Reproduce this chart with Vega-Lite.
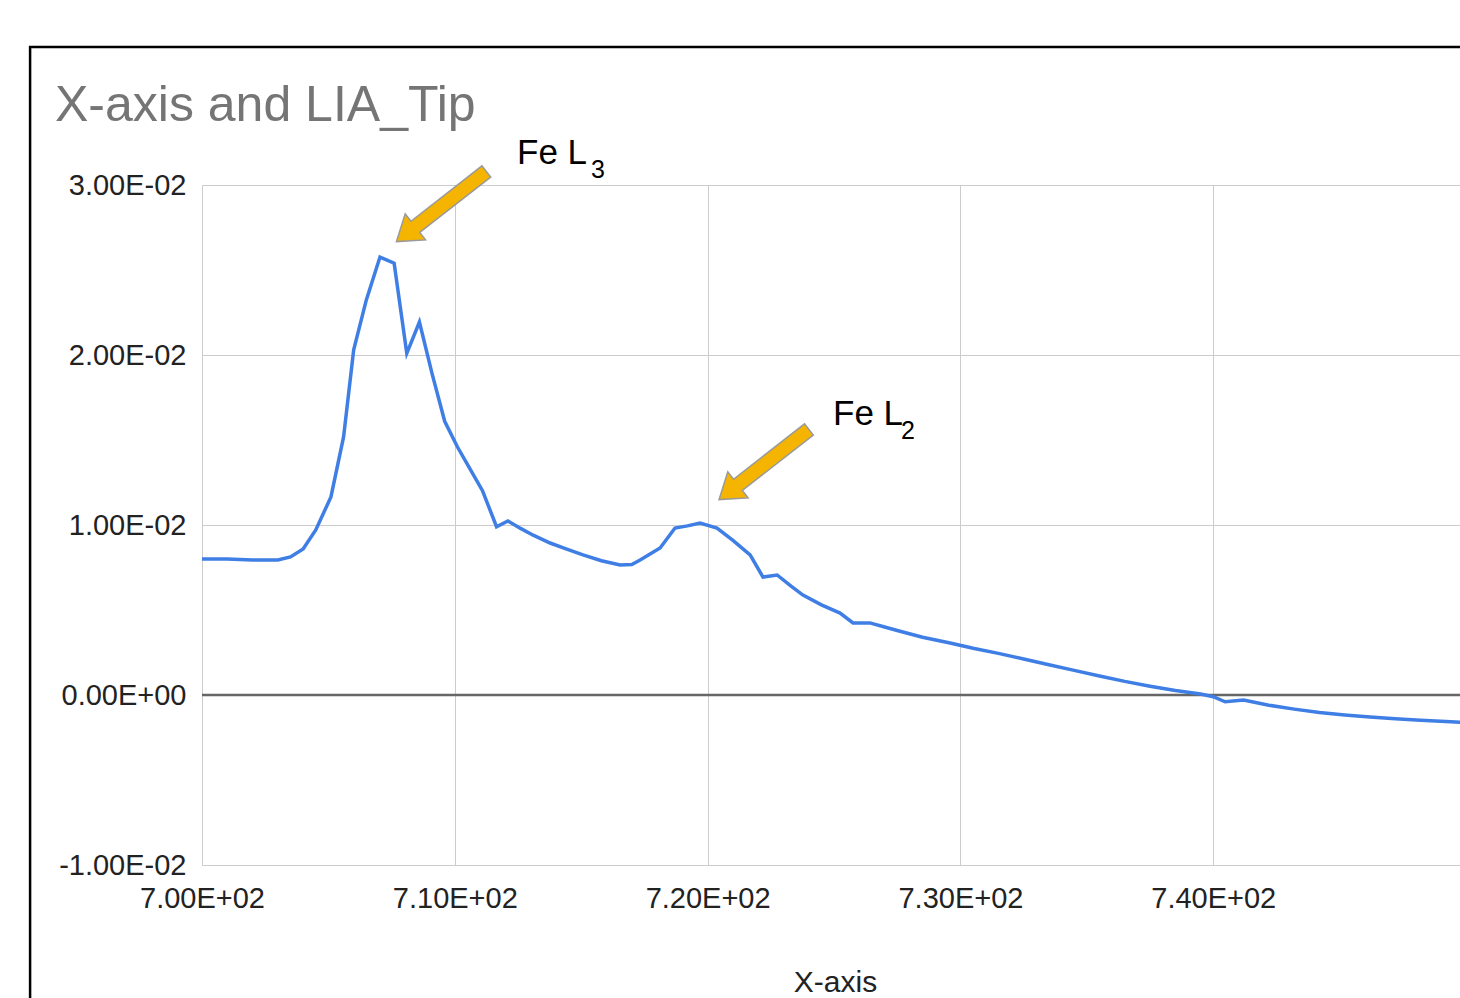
{
  "$schema": "https://vega.github.io/schema/vega-lite/v6.json",
  "autosize": "none",
  "width": 1258,
  "height": 680,
  "padding": {"left": 202, "top": 185, "right": 0, "bottom": 133},
  "background": "white",
  "config": {
    "view": {"stroke": null},
    "font": "Liberation Sans",
    "axis": {
      "domain": false,
      "ticks": false,
      "tickSize": 0,
      "grid": true,
      "gridColor": "#cccccc",
      "gridWidth": 1,
      "labelFlush": false,
      "labelOverlap": false,
      "labelFont": "Liberation Sans",
      "labelFontSize": 29,
      "labelColor": "#222222",
      "titleFont": "Liberation Sans",
      "titleFontSize": 30,
      "titleFontWeight": "normal",
      "titleColor": "#222222"
    }
  },
  "title": {
    "text": "X-axis and LIA_Tip",
    "anchor": "start",
    "frame": "group",
    "font": "Liberation Sans",
    "fontSize": 50,
    "fontWeight": "normal",
    "color": "#757575",
    "baseline": "alphabetic",
    "dx": -147,
    "dy": 160,
    "offset": 35
  },
  "datasets": {
    "spectrum": [
      {"x": 700.0, "y": 0.00800}, {"x": 700.5, "y": 0.00800}, {"x": 701.0, "y": 0.00800},
      {"x": 701.5, "y": 0.00797}, {"x": 702.0, "y": 0.00794}, {"x": 702.5, "y": 0.00794},
      {"x": 703.0, "y": 0.00794}, {"x": 703.5, "y": 0.00812}, {"x": 704.0, "y": 0.00859},
      {"x": 704.5, "y": 0.00971}, {"x": 705.1, "y": 0.01165}, {"x": 705.6, "y": 0.01518},
      {"x": 706.0, "y": 0.02030}, {"x": 706.5, "y": 0.02324}, {"x": 707.04, "y": 0.02576},
      {"x": 707.6, "y": 0.02540}, {"x": 708.1, "y": 0.02010}, {"x": 708.6, "y": 0.02194},
      {"x": 709.1, "y": 0.01890}, {"x": 709.6, "y": 0.01610}, {"x": 710.1, "y": 0.01460},
      {"x": 710.6, "y": 0.01330}, {"x": 711.1, "y": 0.01200}, {"x": 711.65, "y": 0.00990},
      {"x": 712.1, "y": 0.01024}, {"x": 712.6, "y": 0.00980}, {"x": 713.1, "y": 0.00940},
      {"x": 713.77, "y": 0.00894}, {"x": 714.4, "y": 0.00860}, {"x": 715.07, "y": 0.00824},
      {"x": 715.8, "y": 0.00790}, {"x": 716.54, "y": 0.00765}, {"x": 717.0, "y": 0.00768},
      {"x": 717.33, "y": 0.00794}, {"x": 718.12, "y": 0.00865}, {"x": 718.71, "y": 0.00982},
      {"x": 719.2, "y": 0.00995}, {"x": 719.7, "y": 0.01012}, {"x": 720.37, "y": 0.00982},
      {"x": 721.0, "y": 0.00910}, {"x": 721.68, "y": 0.00824}, {"x": 722.19, "y": 0.00694},
      {"x": 722.75, "y": 0.00706}, {"x": 723.3, "y": 0.00640}, {"x": 723.77, "y": 0.00588},
      {"x": 724.5, "y": 0.00530}, {"x": 725.24, "y": 0.00482}, {"x": 725.75, "y": 0.00424},
      {"x": 726.42, "y": 0.00424}, {"x": 727.0, "y": 0.00400}, {"x": 727.61, "y": 0.00375},
      {"x": 728.5, "y": 0.00340}, {"x": 729.59, "y": 0.00306}, {"x": 730.5, "y": 0.00275},
      {"x": 731.5, "y": 0.00245}, {"x": 732.5, "y": 0.00212}, {"x": 733.5, "y": 0.00178},
      {"x": 734.5, "y": 0.00145}, {"x": 735.5, "y": 0.00112}, {"x": 736.5, "y": 0.00080},
      {"x": 737.5, "y": 0.00052}, {"x": 738.5, "y": 0.00027}, {"x": 739.5, "y": 0.00006},
      {"x": 740.0, "y": -0.00010}, {"x": 740.47, "y": -0.00040}, {"x": 741.2, "y": -0.00030},
      {"x": 742.2, "y": -0.00060}, {"x": 743.2, "y": -0.00083}, {"x": 744.2, "y": -0.00103},
      {"x": 745.2, "y": -0.00118}, {"x": 746.2, "y": -0.00130}, {"x": 747.2, "y": -0.00140},
      {"x": 748.2, "y": -0.00148}, {"x": 749.2, "y": -0.00156}, {"x": 750.0, "y": -0.00162}
    ],
    "arrows": [
      {"x": 709.47, "y": 0.028735},
      {"x": 722.23, "y": 0.013559}
    ],
    "labels": [
      {"x": 712.46, "y": 0.031235, "text": "Fe L"},
      {"x": 724.96, "y": 0.015882, "text": "Fe L"}
    ],
    "subs": [
      {"x": 715.39, "y": 0.030412, "text": "3"},
      {"x": 727.65, "y": 0.015059, "text": "2"}
    ],
    "one": [{}]
  },
  "layer": [
    {
      "data": {"name": "one"},
      "mark": {"type": "rect", "filled": false, "fill": null, "stroke": "#000000", "strokeWidth": 2.5, "clip": false},
      "encoding": {
        "x": {"datum": 693.2, "type": "quantitative"},
        "x2": {"datum": 770},
        "y": {"datum": 0.03812, "type": "quantitative"},
        "y2": {"datum": -0.03}
      }
    },
    {
      "data": {"name": "one"},
      "mark": {"type": "rule", "color": "#666666", "strokeWidth": 2.5},
      "encoding": {"y": {"datum": 0, "type": "quantitative"}}
    },
    {
      "data": {"name": "spectrum"},
      "mark": {"type": "line", "color": "#3F7EE4", "strokeWidth": 3.5, "clip": true},
      "encoding": {
        "x": {
          "field": "x", "type": "quantitative",
          "scale": {"domain": [700, 749.76], "nice": false, "zero": false},
          "axis": {
            "values": [700, 710, 720, 730, 740],
            "labelPadding": 19,
            "title": "X-axis",
            "titlePadding": 54,
            "titleX": 633,
            "labelExpr": "datum.value == 0 ? '0.00E+00' : (datum.value < 0 ? '-' : '') + format(abs(datum.value) / pow(10, floor(log(abs(datum.value)) / LN10 + 1e-9)), '.2f') + 'E' + (floor(log(abs(datum.value)) / LN10 + 1e-9) < 0 ? '-' : '+') + (abs(floor(log(abs(datum.value)) / LN10 + 1e-9)) < 10 ? '0' : '') + abs(floor(log(abs(datum.value)) / LN10 + 1e-9))"
          }
        },
        "y": {
          "field": "y", "type": "quantitative",
          "scale": {"domain": [-0.01, 0.03], "nice": false, "zero": false},
          "axis": {
            "values": [-0.01, 0, 0.01, 0.02, 0.03],
            "labelPadding": 16,
            "title": null,
            "labelExpr": "datum.value == 0 ? '0.00E+00' : (datum.value < 0 ? '-' : '') + format(abs(datum.value) / pow(10, floor(log(abs(datum.value)) / LN10 + 1e-9)), '.2f') + 'E' + (floor(log(abs(datum.value)) / LN10 + 1e-9) < 0 ? '-' : '+') + (abs(floor(log(abs(datum.value)) / LN10 + 1e-9)) < 10 ? '0' : '') + abs(floor(log(abs(datum.value)) / LN10 + 1e-9))"
          }
        }
      }
    },
    {
      "data": {"name": "arrows"},
      "mark": {
        "type": "point",
        "shape": "M0,-1L0.29,-0.58L0.125,-0.58L0.125,1L-0.125,1L-0.125,-0.58L-0.29,-0.58Z",
        "filled": true,
        "fill": "#F4B400",
        "stroke": "#9a9a9a",
        "strokeWidth": 1.5,
        "opacity": 1,
        "size": 12996,
        "angle": 232,
        "clip": false
      },
      "encoding": {
        "x": {"field": "x", "type": "quantitative"},
        "y": {"field": "y", "type": "quantitative"}
      }
    },
    {
      "data": {"name": "labels"},
      "mark": {"type": "text", "align": "left", "baseline": "alphabetic", "fontSize": 35, "color": "#000000", "font": "Liberation Sans", "clip": false},
      "encoding": {
        "x": {"field": "x", "type": "quantitative"},
        "y": {"field": "y", "type": "quantitative"},
        "text": {"field": "text"}
      }
    },
    {
      "data": {"name": "subs"},
      "mark": {"type": "text", "align": "left", "baseline": "alphabetic", "fontSize": 25, "color": "#000000", "font": "Liberation Sans", "clip": false},
      "encoding": {
        "x": {"field": "x", "type": "quantitative"},
        "y": {"field": "y", "type": "quantitative"},
        "text": {"field": "text"}
      }
    }
  ]
}
